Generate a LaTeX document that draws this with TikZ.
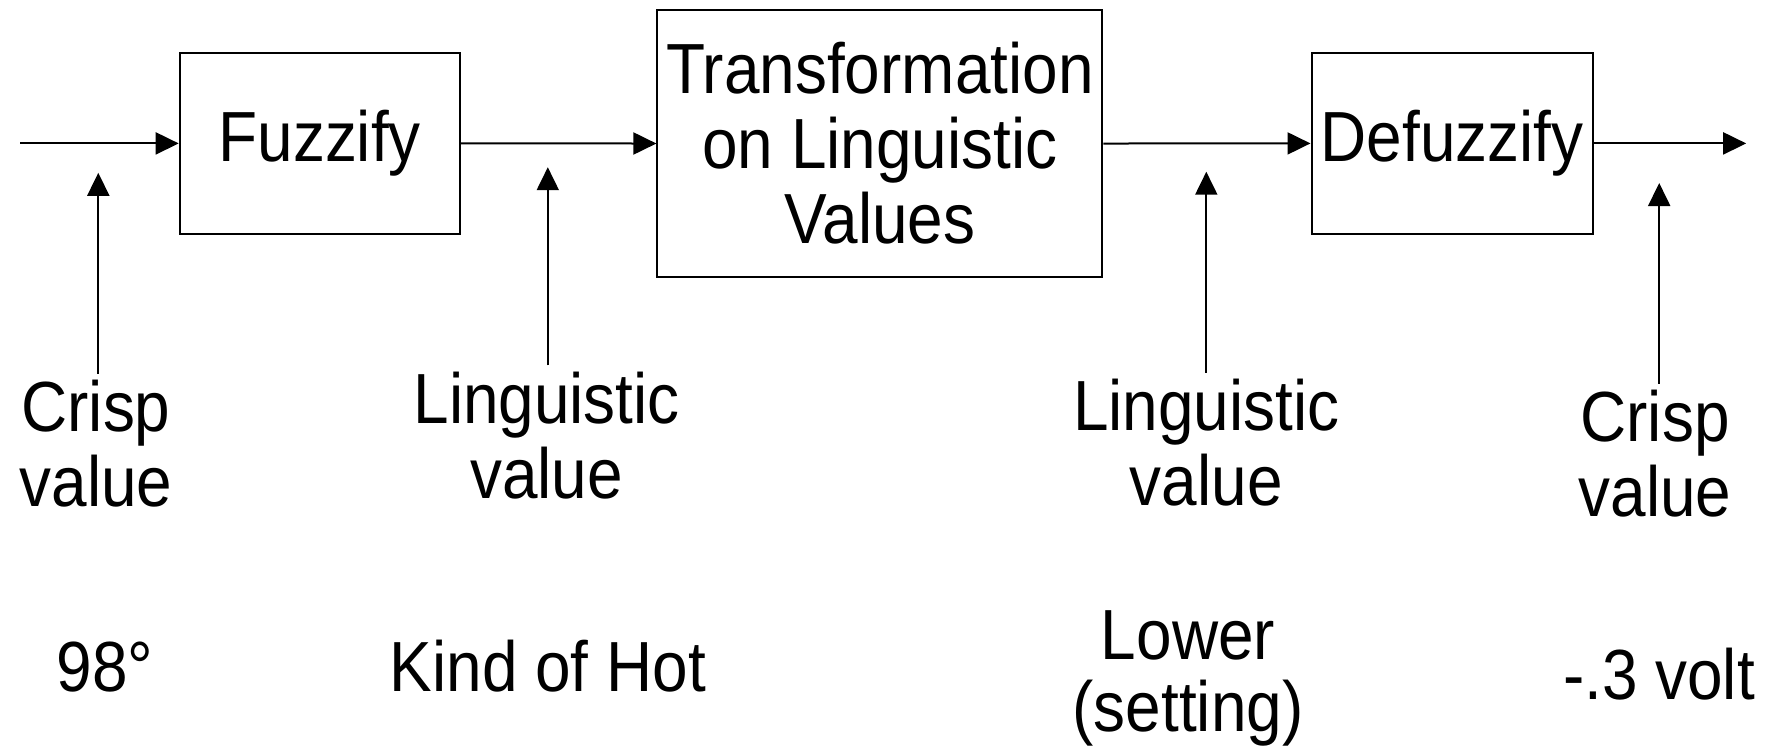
\documentclass[tikz,border=0pt]{standalone}
\usepackage{fontspec}
\setmainfont{Liberation Sans}[FakeStretch=0.9]
\usetikzlibrary{arrows.meta}
\begin{document}
\begin{tikzpicture}[x=0.5pt,y=-0.5pt,
  font=\fontsize{35.5pt}{37.5pt}\selectfont,
  box/.style={draw,line width=1pt,inner sep=0pt,align=center},
  lab/.style={inner sep=3pt,align=center},
  arr/.style={line width=1pt,-{Triangle[length=11.5pt,width=11pt]}}]
\useasboundingbox (0,0) rectangle (1771,752);
% boxes
\node[box,minimum width=140pt,minimum height=90.5pt] (fuzz) at (319.7,143.4) {Fuzzify};
\node[box,minimum width=222.5pt,minimum height=133.3pt] (trans) at (879.9,143.5) {Transformation\\on Linguistic\\Values};
\node[box,minimum width=140.5pt,minimum height=90.5pt] (defuzz) at (1452,143.4) {Defuzzify};
\coordinate (in) at (20.3,143.4);
\coordinate (out) at (1746.2,143.4);
% main flow
\draw[arr] (in) -- (fuzz.west);
\draw[arr] (fuzz.east) -- (trans.west);
\draw[arr] (trans.east) -- (defuzz.west);
\draw[arr] (defuzz.east) -- (out);
% labels
\node[lab] (l1) at (96,443.9) {Crisp\\value};
\node[lab] (l2) at (546.7,435.4) {Linguistic\\value};
\node[lab] (l3) at (1206.3,442.8) {Linguistic\\value};
\node[lab] (l4) at (1655,453.5) {Crisp\\value};
\coordinate (t1) at (98.3,172.8);
\coordinate (t2) at (547.8,167.2);
\coordinate (t3) at (1206.3,171.7);
\coordinate (t4) at (1659.2,183);
\draw[arr] (l1.north -| t1) -- (t1);
\draw[arr] (l2.north -| t2) -- (t2);
\draw[arr] (l3.north -| t3) -- (t3);
\draw[arr] (l4.north -| t4) -- (t4);
% examples
\node[lab] (e1) at (105,667.5) {98°};
\node[lab] (e2) at (547.8,666.4) {Kind of Hot};
\node[lab,font=\fontsize{35.5pt}{36pt}\selectfont] (e3) at (1188,678.8) {Lower\\(setting)};
\node[lab] (e4) at (1659,674.3) {-.3 volt};
\end{tikzpicture}
\end{document}
